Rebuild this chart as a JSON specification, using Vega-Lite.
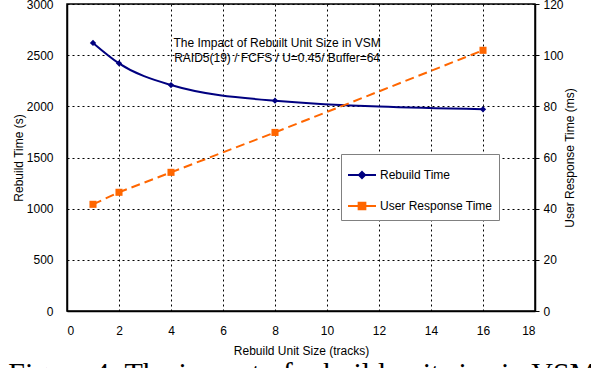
{
  "$schema": "https://vega.github.io/schema/vega-lite/v6.json",
  "width": 468,
  "height": 307,
  "autosize": {"type": "none"},
  "padding": {"left": 67, "top": 4, "right": 56, "bottom": 57},
  "background": "white",
  "title": {
    "text": "Figure 4: The impact of rebuild unit size in VSM",
    "orient": "bottom",
    "anchor": "start",
    "frame": "bounds",
    "font": "Liberation Serif",
    "fontSize": 30,
    "fontWeight": "normal",
    "color": "#000",
    "baseline": "top",
    "offset": 3,
    "dx": -4
  },
  "data": {
    "values": [
      {"size": 1, "rebuild": 2620, "response": 41.7},
      {"size": 2, "rebuild": 2420, "response": 46.4},
      {"size": 4, "rebuild": 2208, "response": 54.2},
      {"size": 8, "rebuild": 2055, "response": 69.8},
      {"size": 16, "rebuild": 1971, "response": 101.9}
    ]
  },
  "layer": [
    {
      "layer": [
        {
          "mark": {"type": "line", "interpolate": "monotone", "strokeWidth": 2},
          "encoding": {
            "x": {
              "field": "size", "type": "quantitative",
              "scale": {"domain": [0, 18], "nice": false},
              "axis": {"values": [0,2,4,6,8,10,12,14,16,18], "format": "d", "title": "Rebuild Unit Size (tracks)", "ticks": false, "tickSize": 0, "labelPadding": 14, "titlePadding": 9, "grid": true}
            },
            "y": {
              "field": "rebuild", "type": "quantitative",
              "scale": {"domain": [0, 3000], "nice": false},
              "axis": {"values": [0,500,1000,1500,2000,2500,3000], "format": "d", "title": "Rebuild Time (s)", "orient": "left", "ticks": false, "tickSize": 0, "labelPadding": 14, "titlePadding": 1, "grid": true}
            },
            "color": {
              "datum": "Rebuild Time",
              "type": "nominal",
              "scale": {"domain": ["Rebuild Time", "User Response Time"], "range": ["#000080", "#FF6600"]},
              "legend": {
                "orient": "none", "legendX": 274, "legendY": 150, "title": null,
                "padding": 6, "rowPadding": 8,
                "strokeColor": "#808080", "fillColor": "white",
                "labelFont": "Liberation Sans", "labelFontSize": 12, "labelColor": "#000", "labelOffset": 3,
                "symbolSize": 784, "symbolStrokeWidth": 2,
                "encode": {
                  "symbols": {
                    "update": {
                      "shape": {"signal": "datum.value === 'Rebuild Time' ? 'M-1,0H1M0,-0.22L0.22,0L0,0.22L-0.22,0Z' : 'M-1,0H1M-0.24,-0.24H0.24V0.24H-0.24Z'"},
                      "fill": {"signal": "datum.value === 'Rebuild Time' ? '#000080' : '#FF6600'"},
                      "stroke": {"signal": "datum.value === 'Rebuild Time' ? '#000080' : '#FF6600'"},
                      "strokeDash": {"value": []},
                      "opacity": {"value": 1}
                    }
                  }
                }
              }
            }
          }
        },
        {
          "mark": {"type": "point", "shape": "diamond", "filled": true, "size": 40, "opacity": 1},
          "encoding": {
            "x": {"field": "size", "type": "quantitative"},
            "y": {"field": "rebuild", "type": "quantitative"},
            "color": {"datum": "Rebuild Time", "type": "nominal"}
          }
        },
        {
          "data": {"values": [{"note": "annotation"}]},
          "mark": {
            "type": "text",
            "text": ["The Impact of Rebuilt Unit Size in VSM", "RAID5(19) / FCFS / U=0.45/ Buffer=64"],
            "font": "Liberation Sans",
            "fontSize": 12,
            "fontWeight": "normal",
            "lineHeight": 15,
            "align": "center",
            "baseline": "middle",
            "color": "#000"
          },
          "encoding": {
            "x": {"datum": 8.08, "type": "quantitative"},
            "y": {"datum": 2619, "type": "quantitative"}
          }
        }
      ]
    },
    {
      "layer": [
        {
          "mark": {"type": "line", "strokeWidth": 2, "strokeDash": [9, 5]},
          "encoding": {
            "x": {"field": "size", "type": "quantitative"},
            "y": {
              "field": "response", "type": "quantitative",
              "scale": {"domain": [0, 120], "nice": false},
              "axis": {"values": [0,20,40,60,80,100,120], "format": "d", "title": "User Response Time (ms)", "orient": "right", "titleAngle": 270, "ticks": true, "tickSize": 4, "labelPadding": 4, "titlePadding": 13, "grid": false}
            },
            "color": {"datum": "User Response Time", "type": "nominal"}
          }
        },
        {
          "mark": {"type": "point", "shape": "square", "filled": true, "size": 50, "opacity": 1},
          "encoding": {
            "x": {"field": "size", "type": "quantitative"},
            "y": {"field": "response", "type": "quantitative"},
            "color": {"datum": "User Response Time", "type": "nominal"}
          }
        }
      ]
    }
  ],
  "resolve": {"scale": {"y": "independent"}},
  "config": {
    "view": {"stroke": "#000", "strokeWidth": 1.5},
    "axis": {
      "labelFont": "Liberation Sans", "titleFont": "Liberation Sans",
      "labelFontSize": 12, "titleFontSize": 12, "titleFontWeight": "normal",
      "labelColor": "#000", "titleColor": "#000",
      "domainColor": "#000", "domainWidth": 1.5,
      "tickColor": "#000", "tickWidth": 1,
      "gridColor": "#000", "gridDash": [2, 3], "gridWidth": 1, "gridOpacity": 1
    }
  }
}
